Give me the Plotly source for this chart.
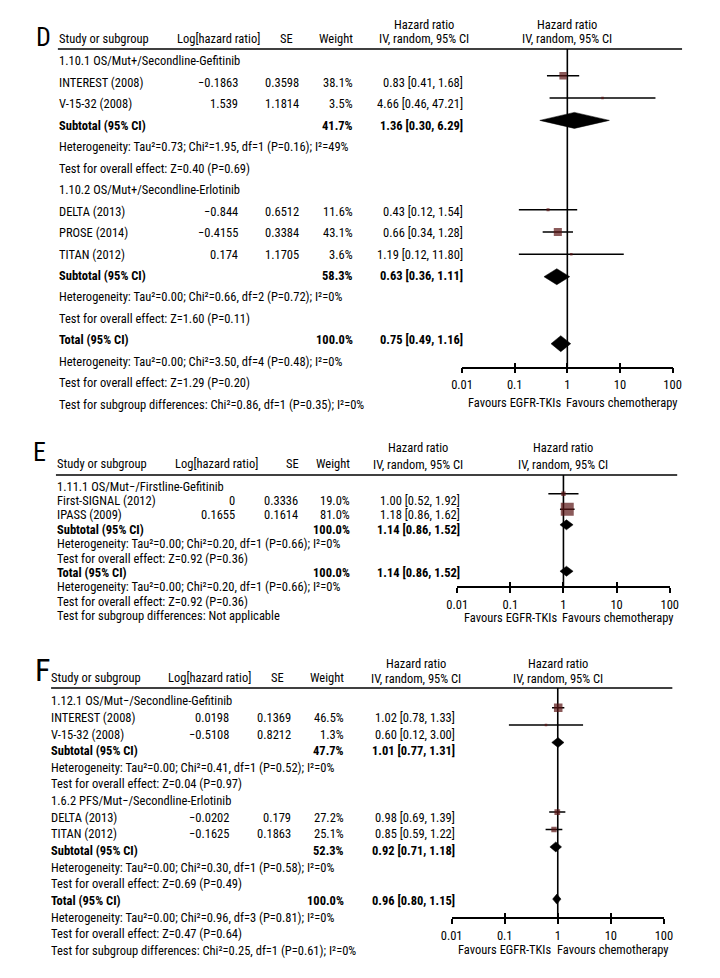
import plotly.graph_objects as go

W, H = 720, 978
OFF_X, OFF_Y = 0, 8  # the page adds an 8 px top margin above the figure; compensate vertically
FONT = "Noto Sans Condensed, Roboto Condensed, Roboto, sans-serif"
FS = 12.5
SQ_COLOR = "#5a1414"

TICK_VALS = [0.01, 0.1, 1, 10, 100]
TICK_TEXT = ["0.01", "0.1", "1", "10", "100"]
HEAD_COLS = ["Study or subgroup", "Log[hazard ratio]", "SE", "Weight"]
HEAD_HR = ["Hazard ratio", "IV, random, 95% CI"]
FAVOURS = ["Favours EGFR-TKIs", "Favours chemotherapy"]

# ---------------- Panel D ----------------
D_subgroups = ["1.10.1 OS/Mut+/Secondline-Gefitinib", "1.10.2 OS/Mut+/Secondline-Erlotinib"]
D_subgroup_rows = [0, 6]
D_studies = ["INTEREST (2008)", "V-15-32 (2008)", "DELTA (2013)", "PROSE (2014)", "TITAN (2012)"]
D_study_rows = [1, 2, 7, 8, 9]
D_loghr = [-0.1863, 1.539, -0.844, -0.4155, 0.174]
D_se = [0.3598, 1.1814, 0.6512, 0.3384, 1.1705]
D_weight = [38.1, 3.5, 11.6, 43.1, 3.6]
D_hr = [0.83, 4.66, 0.43, 0.66, 1.19]
D_lo = [0.41, 0.46, 0.12, 0.34, 0.12]
D_hi = [1.68, 47.21, 1.54, 1.28, 11.80]
D_pooled = ["Subtotal (95% CI)", "Subtotal (95% CI)", "Total (95% CI)"]
D_pooled_rows = [3, 10, 13]
D_pooled_weight = [41.7, 58.3, 100.0]
D_pooled_hr = [1.36, 0.63, 0.75]
D_pooled_lo = [0.30, 0.36, 0.49]
D_pooled_hi = [6.29, 1.11, 1.16]
D_notes = [
    "Heterogeneity: Tau²=0.73; Chi²=1.95, df=1 (P=0.16); I²=49%",
    "Test for overall effect: Z=0.40 (P=0.69)",
    "Heterogeneity: Tau²=0.00; Chi²=0.66, df=2 (P=0.72); I²=0%",
    "Test for overall effect: Z=1.60 (P=0.11)",
    "Heterogeneity: Tau²=0.00; Chi²=3.50, df=4 (P=0.48); I²=0%",
    "Test for overall effect: Z=1.29 (P=0.20)",
    "Test for subgroup differences: Chi²=0.86, df=1 (P=0.35); I²=0%",
]
D_note_rows = [4, 5, 11, 12, 14, 15, 16]

# ---------------- Panel E ----------------
E_subgroups = ["1.11.1 OS/Mut−/Firstline-Gefitinib"]
E_subgroup_rows = [0]
E_studies = ["First-SIGNAL (2012)", "IPASS (2009)"]
E_study_rows = [1, 2]
E_loghr = [0, 0.1655]
E_se = [0.3336, 0.1614]
E_weight = [19.0, 81.0]
E_hr = [1.00, 1.18]
E_lo = [0.52, 0.86]
E_hi = [1.92, 1.62]
E_pooled = ["Subtotal (95% CI)", "Total (95% CI)"]
E_pooled_rows = [3, 6]
E_pooled_weight = [100.0, 100.0]
E_pooled_hr = [1.14, 1.14]
E_pooled_lo = [0.86, 0.86]
E_pooled_hi = [1.52, 1.52]
E_notes = [
    "Heterogeneity: Tau²=0.00; Chi²=0.20, df=1 (P=0.66); I²=0%",
    "Test for overall effect: Z=0.92 (P=0.36)",
    "Heterogeneity: Tau²=0.00; Chi²=0.20, df=1 (P=0.66); I²=0%",
    "Test for overall effect: Z=0.92 (P=0.36)",
    "Test for subgroup differences: Not applicable",
]
E_note_rows = [4, 5, 7, 8, 9]

# ---------------- Panel F ----------------
F_subgroups = ["1.12.1 OS/Mut−/Secondline-Gefitinib", "1.6.2 PFS/Mut−/Secondline-Erlotinib"]
F_subgroup_rows = [0, 6]
F_studies = ["INTEREST (2008)", "V-15-32 (2008)", "DELTA (2013)", "TITAN (2012)"]
F_study_rows = [1, 2, 7, 8]
F_loghr = [0.0198, -0.5108, -0.0202, -0.1625]
F_se = [0.1369, 0.8212, 0.179, 0.1863]
F_weight = [46.5, 1.3, 27.2, 25.1]
F_hr = [1.02, 0.60, 0.98, 0.85]
F_lo = [0.78, 0.12, 0.69, 0.59]
F_hi = [1.33, 3.00, 1.39, 1.22]
F_pooled = ["Subtotal (95% CI)", "Subtotal (95% CI)", "Total (95% CI)"]
F_pooled_rows = [3, 9, 12]
F_pooled_weight = [47.7, 52.3, 100.0]
F_pooled_hr = [1.01, 0.92, 0.96]
F_pooled_lo = [0.77, 0.71, 0.80]
F_pooled_hi = [1.31, 1.18, 1.15]
F_notes = [
    "Heterogeneity: Tau²=0.00; Chi²=0.41, df=1 (P=0.52); I²=0%",
    "Test for overall effect: Z=0.04 (P=0.97)",
    "Heterogeneity: Tau²=0.00; Chi²=0.30, df=1 (P=0.58); I²=0%",
    "Test for overall effect: Z=0.69 (P=0.49)",
    "Heterogeneity: Tau²=0.00; Chi²=0.96, df=3 (P=0.81); I²=0%",
    "Test for overall effect: Z=0.47 (P=0.64)",
    "Test for subgroup differences: Chi²=0.25, df=1 (P=0.61); I²=0%",
]
F_note_rows = [4, 5, 10, 11, 13, 14, 15]

PANELS = [
    dict(letter="D", subgroups=D_subgroups, subgroup_rows=D_subgroup_rows, studies=D_studies,
         study_rows=D_study_rows, loghr=D_loghr, se=D_se, weight=D_weight, hr=D_hr, lo=D_lo, hi=D_hi,
         pooled=D_pooled, pooled_rows=D_pooled_rows, pooled_weight=D_pooled_weight,
         pooled_hr=D_pooled_hr, pooled_lo=D_pooled_lo, pooled_hi=D_pooled_hi,
         notes=D_notes, note_rows=D_note_rows),
    dict(letter="E", subgroups=E_subgroups, subgroup_rows=E_subgroup_rows, studies=E_studies,
         study_rows=E_study_rows, loghr=E_loghr, se=E_se, weight=E_weight, hr=E_hr, lo=E_lo, hi=E_hi,
         pooled=E_pooled, pooled_rows=E_pooled_rows, pooled_weight=E_pooled_weight,
         pooled_hr=E_pooled_hr, pooled_lo=E_pooled_lo, pooled_hi=E_pooled_hi,
         notes=E_notes, note_rows=E_note_rows),
    dict(letter="F", subgroups=F_subgroups, subgroup_rows=F_subgroup_rows, studies=F_studies,
         study_rows=F_study_rows, loghr=F_loghr, se=F_se, weight=F_weight, hr=F_hr, lo=F_lo, hi=F_hi,
         pooled=F_pooled, pooled_rows=F_pooled_rows, pooled_weight=F_pooled_weight,
         pooled_hr=F_pooled_hr, pooled_lo=F_pooled_lo, pooled_hi=F_pooled_hi,
         notes=F_notes, note_rows=F_note_rows),
]

# Layout geometry (window pixels, as in the reference) for each panel
GEOM = [
    dict(letter_xy=(25, 37), letter_size=26, head_y=38, hr_head_y=(24, 38), line_y=49, line_x=(40, 682),
         row0=61, row_dy=21.45, c_study=41, c_log_head=205, c_se_head=275, c_log=225, c_se=288, c_w=344,
         c_hr=457, c_hr_head=417, x01=455.7, x100=672.3, plot_top=49, axis_y=366.7,
         prow_a=53.4, prow_b=22.33, dia_half=8, fav_y=403),
    dict(letter_xy=(21, 452), letter_size=26, head_y=463, hr_head_y=(448, 464), line_y=475, line_x=(38, 677),
         row0=486, row_dy=14.4, c_study=39.3, c_log_head=203, c_se_head=281, c_log=222, c_se=286.7, c_w=340.7,
         c_hr=454, c_hr_head=410, x01=450.7, x100=669.3, plot_top=475, axis_y=586,
         prow_a=478.3, prow_b=15.49, dia_half=5, fav_y=617),
    dict(letter_xy=(24, 670), letter_size=32, head_y=677, hr_head_y=(663, 678), line_y=688, line_x=(33, 672),
         row0=700.7, row_dy=16.65, c_study=32.7, c_log_head=196, c_se_head=266, c_log=216, c_se=279.3, c_w=334,
         c_hr=448.3, c_hr_head=408, x01=445, x100=663.3, plot_top=688, axis_y=917.3,
         prow_a=690.3, prow_b=17.4, dia_half=5, fav_y=949),
]

annotations = []
shapes = []
layout_axes = {}
fig = go.Figure()


def px(x):
    return (x - OFF_X) / W


def py(y):
    return 1 - (y - OFF_Y) / H


def txt(x, y, text, anchor="left", size=FS, bold=False):
    if bold:
        text = "<b>" + text + "</b>"
    annotations.append(dict(x=px(x), y=py(y), xref="paper", yref="paper", text=text, showarrow=False,
                            xanchor=anchor, yanchor="middle", borderpad=0, borderwidth=0,
                            font=dict(size=size, color="black", family=FONT)))


def num(v):
    s = repr(v) if isinstance(v, float) else str(v)
    return s.replace("-", "−")


def hrtext(h, l, u):
    return f"{h:.2f} [{l:.2f}, {u:.2f}]"


for i, (P, G) in enumerate(zip(PANELS, GEOM)):
    k = i + 2
    kt = i + 5
    xa, ya = f"x{k}", f"y{k}"

    def ry(r):
        return G["row0"] + G["row_dy"] * r

    lx, ly = G["letter_xy"]
    txt(lx, ly, P["letter"], anchor="center", size=G["letter_size"])

    txt(G["c_study"], G["head_y"], HEAD_COLS[0])
    txt(G["c_log_head"], G["head_y"], HEAD_COLS[1], anchor="center")
    txt(G["c_se_head"], G["head_y"], HEAD_COLS[2], anchor="center")
    txt(G["c_w"], G["head_y"], HEAD_COLS[3], anchor="right")
    pc = (G["x01"] + G["x100"]) / 2
    for j, line in enumerate(HEAD_HR):
        txt(G["c_hr_head"], G["hr_head_y"][j], line, anchor="center")
        txt(pc, G["hr_head_y"][j], line, anchor="center")
    shapes.append(dict(type="line", xref="paper", yref="paper", x0=px(G["line_x"][0]), x1=px(G["line_x"][1]),
                       y0=py(G["line_y"]), y1=py(G["line_y"]), line=dict(color="black", width=1.6)))

    for r, s in zip(P["subgroup_rows"], P["subgroups"]):
        txt(G["c_study"], ry(r), s)
    for n in range(len(P["studies"])):
        r = P["study_rows"][n]
        txt(G["c_study"], ry(r), P["studies"][n])
        txt(G["c_log"], ry(r), num(P["loghr"][n]), anchor="right")
        txt(G["c_se"], ry(r), num(P["se"][n]), anchor="right")
        txt(G["c_w"], ry(r), f"{P['weight'][n]:.1f}%", anchor="right")
        txt(G["c_hr"], ry(r), hrtext(P["hr"][n], P["lo"][n], P["hi"][n]), anchor="right")
    for n in range(len(P["pooled"])):
        r = P["pooled_rows"][n]
        txt(G["c_study"], ry(r), P["pooled"][n], bold=True)
        txt(G["c_w"], ry(r), f"{P['pooled_weight'][n]:.1f}%", anchor="right", bold=True)
        txt(G["c_hr"], ry(r), hrtext(P["pooled_hr"][n], P["pooled_lo"][n], P["pooled_hi"][n]),
            anchor="right", bold=True)
    for r, s in zip(P["note_rows"], P["notes"]):
        txt(G["c_study"], ry(r), s)

    a, b = G["prow_a"], G["prow_b"]
    r_top = (G["plot_top"] - a) / b
    r_bot = (G["axis_y"] - a) / b
    xdom = [px(G["x01"]), px(G["x100"])]
    ydom = [py(G["axis_y"]), py(G["plot_top"])]
    layout_axes[f"xaxis{k}"] = dict(type="log", range=[-2, 2], domain=xdom, anchor=ya,
                                    tickvals=TICK_VALS, ticktext=TICK_TEXT, ticks="outside", ticklen=5,
                                    tickwidth=1.5, tickcolor="black", showline=True, linecolor="black",
                                    linewidth=1.5, showgrid=False, zeroline=False, ticklabelstandoff=1,
                                    tickfont=dict(size=FS, color="black", family=FONT))
    layout_axes[f"xaxis{kt}"] = dict(type="log", range=[-2, 2], domain=xdom, anchor=ya, overlaying=xa,
                                     tickvals=TICK_VALS, ticks="inside", ticklen=4, tickwidth=1.5,
                                     tickcolor="black", showticklabels=False, showline=False,
                                     showgrid=False, zeroline=False)
    layout_axes[f"yaxis{k}"] = dict(domain=ydom, range=[r_bot, r_top], visible=False, anchor=xa,
                                    showgrid=False, zeroline=False)

    txt(pc - 7, G["fav_y"], FAVOURS[0], anchor="right")
    txt(pc - 1, G["fav_y"], FAVOURS[1], anchor="left")

    fig.add_trace(go.Scatter(x=[TICK_VALS[2], TICK_VALS[2]], y=[r_top, r_bot], xaxis=xa, yaxis=ya,
                             mode="lines", line=dict(color="black", width=1.6), hoverinfo="skip",
                             showlegend=False))
    cx, cy = [], []
    for n in range(len(P["studies"])):
        r = P["study_rows"][n]
        cx += [P["lo"][n], P["hi"][n], None]
        cy += [r, r, None]
    fig.add_trace(go.Scatter(x=cx, y=cy, xaxis=xa, yaxis=ya, mode="lines",
                             line=dict(color="black", width=1.5), hoverinfo="skip", showlegend=False))
    sizes = [max(2.5, 0.48 * w ** 0.75) for w in P["weight"]]
    fig.add_trace(go.Scatter(x=P["hr"], y=P["study_rows"], xaxis=xa, yaxis=ya, mode="markers",
                             marker=dict(symbol="square", size=sizes, color=SQ_COLOR, line=dict(width=0)),
                             hoverinfo="skip", showlegend=False))
    h = G["dia_half"] / b
    for n in range(len(P["pooled"])):
        r = P["pooled_rows"][n]
        hh, lo, hi = P["pooled_hr"][n], P["pooled_lo"][n], P["pooled_hi"][n]
        fig.add_trace(go.Scatter(x=[lo, hh, hi, hh, lo], y=[r, r - h, r, r + h, r], xaxis=xa, yaxis=ya,
                                 mode="lines", fill="toself", fillcolor="black",
                                 line=dict(color="black", width=0.5), hoverinfo="skip", showlegend=False))
    fig.add_trace(go.Scatter(x=P["pooled_hr"], y=P["pooled_rows"], xaxis=f"x{kt}", yaxis=ya, mode="markers",
                             marker=dict(opacity=0), hoverinfo="skip", showlegend=False))

fig.update_layout(width=W, height=H, margin=dict(l=0, r=0, t=0, b=0), paper_bgcolor="white",
                  plot_bgcolor="rgba(0,0,0,0)", showlegend=False, annotations=annotations, shapes=shapes,
                  xaxis=dict(visible=False), yaxis=dict(visible=False), **layout_axes)
fig.write_html("out.html")
